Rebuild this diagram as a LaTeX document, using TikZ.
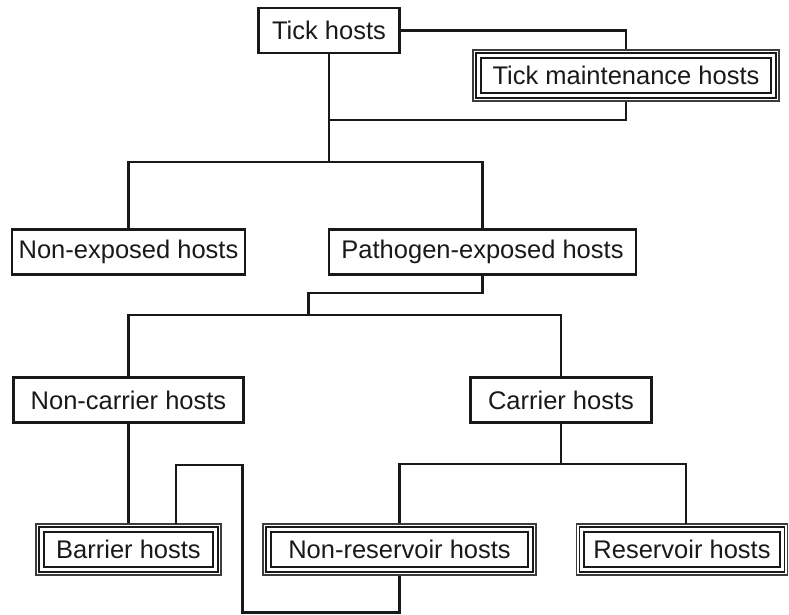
\documentclass[tikz,border=0pt]{standalone}
\usepackage{fontspec}
\setmainfont{Liberation Sans}
\definecolor{ink}{RGB}{25,25,25}
\begin{document}
\begin{tikzpicture}[x=1pt,y=-1pt,
  lbl/.style={text=ink, font=\fontsize{25.5}{30}\selectfont, inner sep=0pt},
  box/.style={lbl, draw=ink, line width=2.2pt, minimum height=45pt},
  dbox/.style={lbl, draw=ink!85, line width=1.2pt, minimum height=51pt},
  conn/.style={draw=ink, line width=2.8pt}]
\useasboundingbox (0,0) rectangle (789,614);

% nodes
\node[box, minimum width=141pt] (th) at (329,30.5) {Tick hosts};
\node[dbox, minimum width=306pt] (tmh) at (626,75.5) {Tick maintenance hosts};
\node[box, minimum width=233pt] (ne) at (128.5,252) {Non-exposed hosts};
\node[box, minimum width=307pt] (pe) at (482.5,252) {Pathogen-exposed hosts};
\node[box, minimum width=230pt] (nc) at (128.5,400) {Non-carrier hosts};
\node[box, minimum width=181pt] (ca) at (561,400) {Carrier hosts};
\node[dbox, minimum width=185pt] (bar) at (128.5,549.5) {Barrier hosts};
\node[dbox, minimum width=273pt] (nr) at (399.5,549.5) {Non-reservoir hosts};
\node[dbox, minimum width=211pt] (res) at (682,549.5) {Reservoir hosts};

% inner frames of the framed boxes
\foreach \n in {tmh,bar,nr,res}{
  \draw[ink, line width=1.6pt] ([shift={(3.6pt,-3.6pt)}]\n.north west) rectangle ([shift={(-3.6pt,3.6pt)}]\n.south east);
  \draw[ink, line width=2.2pt] ([shift={(8.3pt,-8.3pt)}]\n.north west) rectangle ([shift={(-8.3pt,8.3pt)}]\n.south east);
}

% junction coordinates
\coordinate (j0) at (329,120);
\coordinate (j1) at (329,162);
\coordinate (j2) at (308.5,293);
\coordinate (j3) at (308.5,315);
\coordinate (j4) at (561,464);
\coordinate (r1) at (686,524);
\coordinate (b1) at (176,524);
\coordinate (b2) at (242.5,465);
\coordinate (b3) at (242.5,612.5);

% connectors
\draw[conn] (th.east) -| (tmh.north);
\draw[conn] (tmh.south) |- (j0);
\draw[conn] (th.south) -- (j1);
\draw[conn] (ne.north) |- (j1) -| (pe.north);
\draw[conn] (pe.south) |- (j2) -- (j3);
\draw[conn] (nc.north) |- (j3) -| (ca.north);
\draw[conn] (nc.south) -- (bar.north);
\draw[conn] (ca.south) -- (j4);
\draw[conn] (nr.north) |- (j4) -| (r1);
\draw[conn] (b1) |- (b2) -- (b3) -| (nr.south);
\end{tikzpicture}
\end{document}
